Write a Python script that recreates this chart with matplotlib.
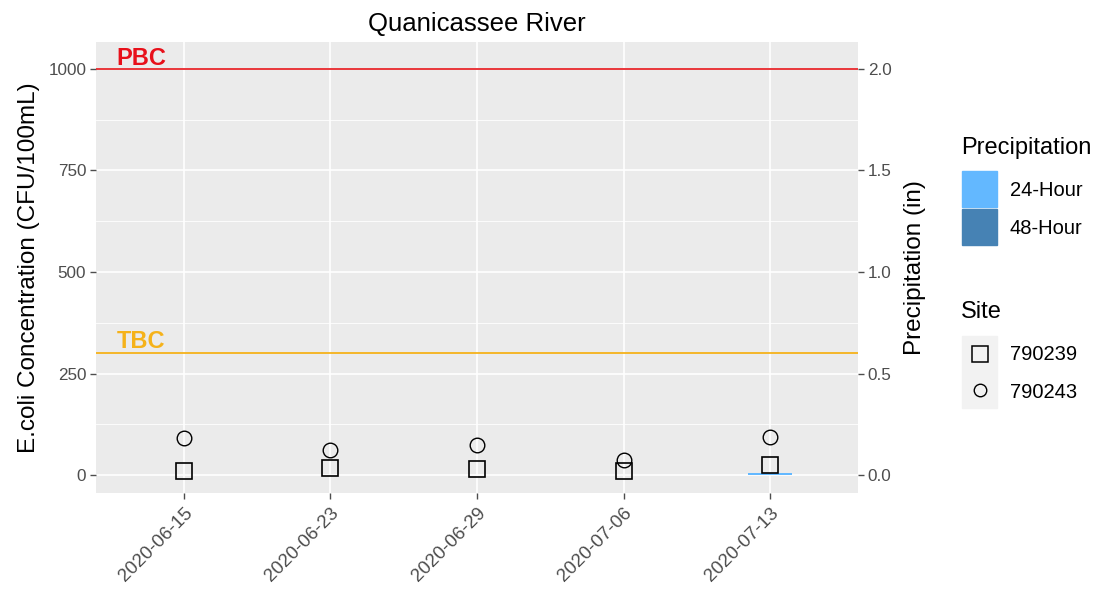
import matplotlib
matplotlib.use("Agg")
import matplotlib.pyplot as plt
from matplotlib.patches import Rectangle

plt.rcParams["font.family"] = ["Liberation Sans", "DejaVu Sans"]

# ---- data ----
dates = ["2020-06-15", "2020-06-23", "2020-06-29", "2020-07-06", "2020-07-13"]
site_790239 = [9, 17, 15, 10, 26]
site_790243 = [91, 62, 73, 37, 95]
precip_24h = [0, 0, 0, 0, 0.01]
precip_48h = [0, 0, 0, 0, 0]
pbc = 1000
tbc = 300
yticks = [0, 250, 500, 750, 1000]
y2ticks = [0.0, 0.5, 1.0, 1.5, 2.0]
scale = 500.0  # primary units per inch of precipitation

W, H = 1100, 594
fig = plt.figure(figsize=(11, 5.94), dpi=100)
fig.patch.set_facecolor("white")

def fx(px):
    return px / W
def fy(py):
    return 1 - py / H

left, right, top, bottom = 96, 858, 42, 493
ax = fig.add_axes([fx(left), fy(bottom), fx(right) - fx(left), fy(top) - fy(bottom)])
ax.set_facecolor("#EBEBEB")
for s in ax.spines.values():
    s.set_visible(False)

x = list(range(1, len(dates) + 1))
ax.set_xlim(0.4, 5.6)
ax.set_ylim(-44, 1066)

# grid
for v in [125, 375, 625, 875]:
    ax.axhline(v, color="white", lw=0.6, zorder=0)
for v in yticks:
    ax.axhline(v, color="white", lw=1.2, zorder=0)
for v in x:
    ax.axvline(v, color="white", lw=1.2, zorder=0)

# precipitation bars (on primary scale)
ax.bar(x, [p * scale for p in precip_48h], width=0.3, color="#4682B4", zorder=2)
ax.bar(x, [p * scale for p in precip_24h], width=0.3, color="#63B8FF", zorder=2)

# reference lines
ax.axhline(pbc, color="#E8272B", lw=1.3, zorder=3)
ax.axhline(tbc, color="#F5B21A", lw=1.3, zorder=3)
ax.text(0.71, pbc + 26, "PBC", color="#E8101A", fontsize=17, fontweight="bold",
        ha="center", va="center", zorder=4)
ax.text(0.71, tbc + 28, "TBC", color="#F5B21A", fontsize=17, fontweight="bold",
        ha="center", va="center", zorder=4)

# points
ax.plot(x, site_790239, ls="none", marker="s", markersize=12, mfc="none",
        mec="black", mew=1.2, zorder=5)
ax.plot(x, site_790243, ls="none", marker="o", markersize=10.5, mfc="none",
        mec="black", mew=1.0, zorder=5)

ax.set_xticks(x)
ax.set_xticklabels(dates, rotation=45, ha="right", va="top", rotation_mode="anchor")
ax.set_yticks(yticks)
ax.set_yticklabels([str(v) for v in yticks])
ax.tick_params(axis="both", colors="#4D4D4D", labelcolor="#4D4D4D",
               labelsize=12.3, length=4, width=1, pad=3)
ax.tick_params(axis="x", labelsize=13.5, pad=4)
ax.set_ylabel("E.coli Concentration (CFU/100mL)", fontsize=17.5, color="black", labelpad=6)
ax.set_title("Quanicassee River", fontsize=18.5, pad=8)

ax2 = ax.twinx()
ax2.set_ylim(-44 / scale, 1066 / scale)
for s in ax2.spines.values():
    s.set_visible(False)
ax2.set_yticks(y2ticks)
ax2.set_yticklabels([f"{v:.1f}" for v in y2ticks])
ax2.tick_params(axis="y", colors="#4D4D4D", labelcolor="#4D4D4D", labelsize=12.3,
                length=4, width=1, pad=3)
ax2.set_ylabel("Precipitation (in)", fontsize=17.5, color="black", labelpad=9)

# ---- manual legends (pixel coordinates) ----
lg = fig.add_axes([0, 0, 1, 1])
lg.set_xlim(0, W)
lg.set_ylim(H, 0)
lg.axis("off")
lg.patch.set_alpha(0)

lg.text(961, 148, "Precipitation", fontsize=17, va="center", ha="left")
lg.add_patch(Rectangle((962, 171), 35, 36, color="#63B8FF"))
lg.add_patch(Rectangle((962, 209), 35, 36, color="#4682B4"))
lg.text(1010, 190, "24-Hour", fontsize=14.5, va="center", ha="left")
lg.text(1010, 229, "48-Hour", fontsize=14.5, va="center", ha="left")

lg.text(961, 312, "Site", fontsize=17, va="center", ha="left")
lg.add_patch(Rectangle((962, 336), 35, 72, color="#F2F2F2"))
lg.plot([979.5], [354], marker="s", markersize=11, mfc="none", mec="black", mew=1.1, ls="none")
lg.plot([979.5], [390], marker="o", markersize=9, mfc="none", mec="black", mew=1.0, ls="none")
lg.text(1010, 354, "790239", fontsize=14.5, va="center", ha="left")
lg.text(1010, 392, "790243", fontsize=14.5, va="center", ha="left")

fig.savefig("out.png", dpi=100)
